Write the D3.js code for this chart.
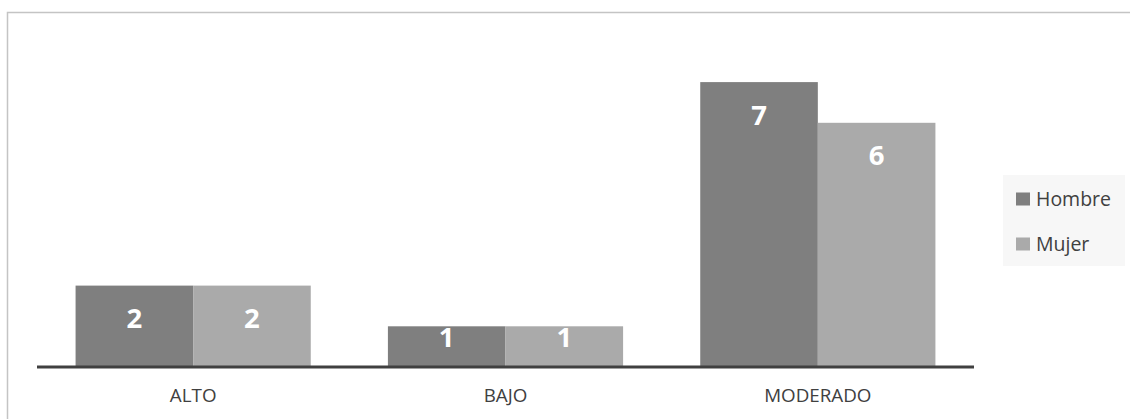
<!DOCTYPE html>
<html>
<head>
<meta charset="utf-8">
<script src="https://cdn.jsdelivr.net/npm/d3@7"></script>
<style>
  html, body { margin: 0; padding: 0; background: #ffffff; }
  svg { display: block; font-family: "Open Sans", "Noto Sans", sans-serif; }
</style>
</head>
<body>
<svg id="chart" width="1130" height="419"></svg>
<script>
// Nivel por sexo
const categories = ["ALTO", "BAJO", "MODERADO"];
const seriesNames = ["Hombre", "Mujer"];
const hombre = [2, 1, 7];
const mujer = [2, 1, 6];
const seriesColors = ["#7f7f7f", "#aaaaaa"];

const rows = categories.map((c, i) => ({ cat: c, values: [hombre[i], mujer[i]] }));

const svg = d3.select("#chart");
const W = 1130, H = 419;

// chart area frame
svg.append("rect")
  .attr("x", 7.5).attr("y", 12.5)
  .attr("width", W + 20).attr("height", H + 20)
  .attr("fill", "#ffffff")
  .attr("stroke", "#c4c4c4").attr("stroke-width", 1.5);

const plot = { left: 37, right: 974, baseline: 367 };
const unit = 40.7;

const x0 = d3.scaleBand()
  .domain(categories)
  .range([plot.left, plot.right])
  .paddingInner(0.247)
  .paddingOuter(0.1235);

const x1 = d3.scaleBand()
  .domain(seriesNames)
  .range([0, x0.bandwidth()]);

const y = d3.scaleLinear()
  .domain([0, 8])
  .range([plot.baseline, plot.baseline - 8 * unit]);

const color = d3.scaleOrdinal().domain(seriesNames).range(seriesColors);

// bars
const groups = svg.append("g").selectAll("g")
  .data(rows)
  .join("g")
  .attr("transform", d => `translate(${x0(d.cat)},0)`);

const cells = groups.selectAll("g")
  .data(d => d.values.map((v, k) => ({ key: seriesNames[k], value: v })))
  .join("g");

cells.append("rect")
  .attr("x", d => x1(d.key))
  .attr("y", d => y(d.value))
  .attr("width", x1.bandwidth())
  .attr("height", d => y(0) - y(d.value))
  .attr("fill", d => color(d.key));

// value labels placed inside the bar end
cells.append("text")
  .attr("x", d => x1(d.key) + x1.bandwidth() / 2)
  .attr("y", d => Math.min(y(d.value) + 33, y(0) - 30))
  .attr("dy", "0.35em")
  .attr("text-anchor", "middle")
  .attr("fill", "#ffffff")
  .attr("font-weight", "bold")
  .attr("font-size", 27.5)
  .text(d => d.value);

// category axis
const xAxis = svg.append("g")
  .attr("transform", `translate(0,${plot.baseline})`)
  .call(d3.axisBottom(x0).tickSize(0).tickPadding(22));
xAxis.select(".domain")
  .attr("d", `M${plot.left},0H${plot.right}`)
  .attr("stroke", "#404040").attr("stroke-width", 3);
xAxis.selectAll("text")
  .attr("font-family", "'Open Sans', 'Noto Sans', sans-serif")
  .attr("font-size", 18.8)
  .attr("fill", "#404040");

// legend
const legend = svg.append("g");
legend.append("rect")
  .attr("x", 1003).attr("y", 175)
  .attr("width", 122).attr("height", 91)
  .attr("fill", "#f7f7f7");
const items = legend.selectAll("g.item")
  .data(seriesNames)
  .join("g")
  .attr("class", "item")
  .attr("transform", (d, i) => `translate(1016,${199 + i * 45})`);
items.append("rect")
  .attr("x", 0).attr("y", -6.5)
  .attr("width", 14).attr("height", 13)
  .attr("fill", d => color(d));
items.append("text")
  .attr("x", 20).attr("y", 0)
  .attr("dy", "0.35em")
  .attr("font-size", 19.5)
  .attr("fill", "#404040")
  .text(d => d);
</script>
</body>
</html>
